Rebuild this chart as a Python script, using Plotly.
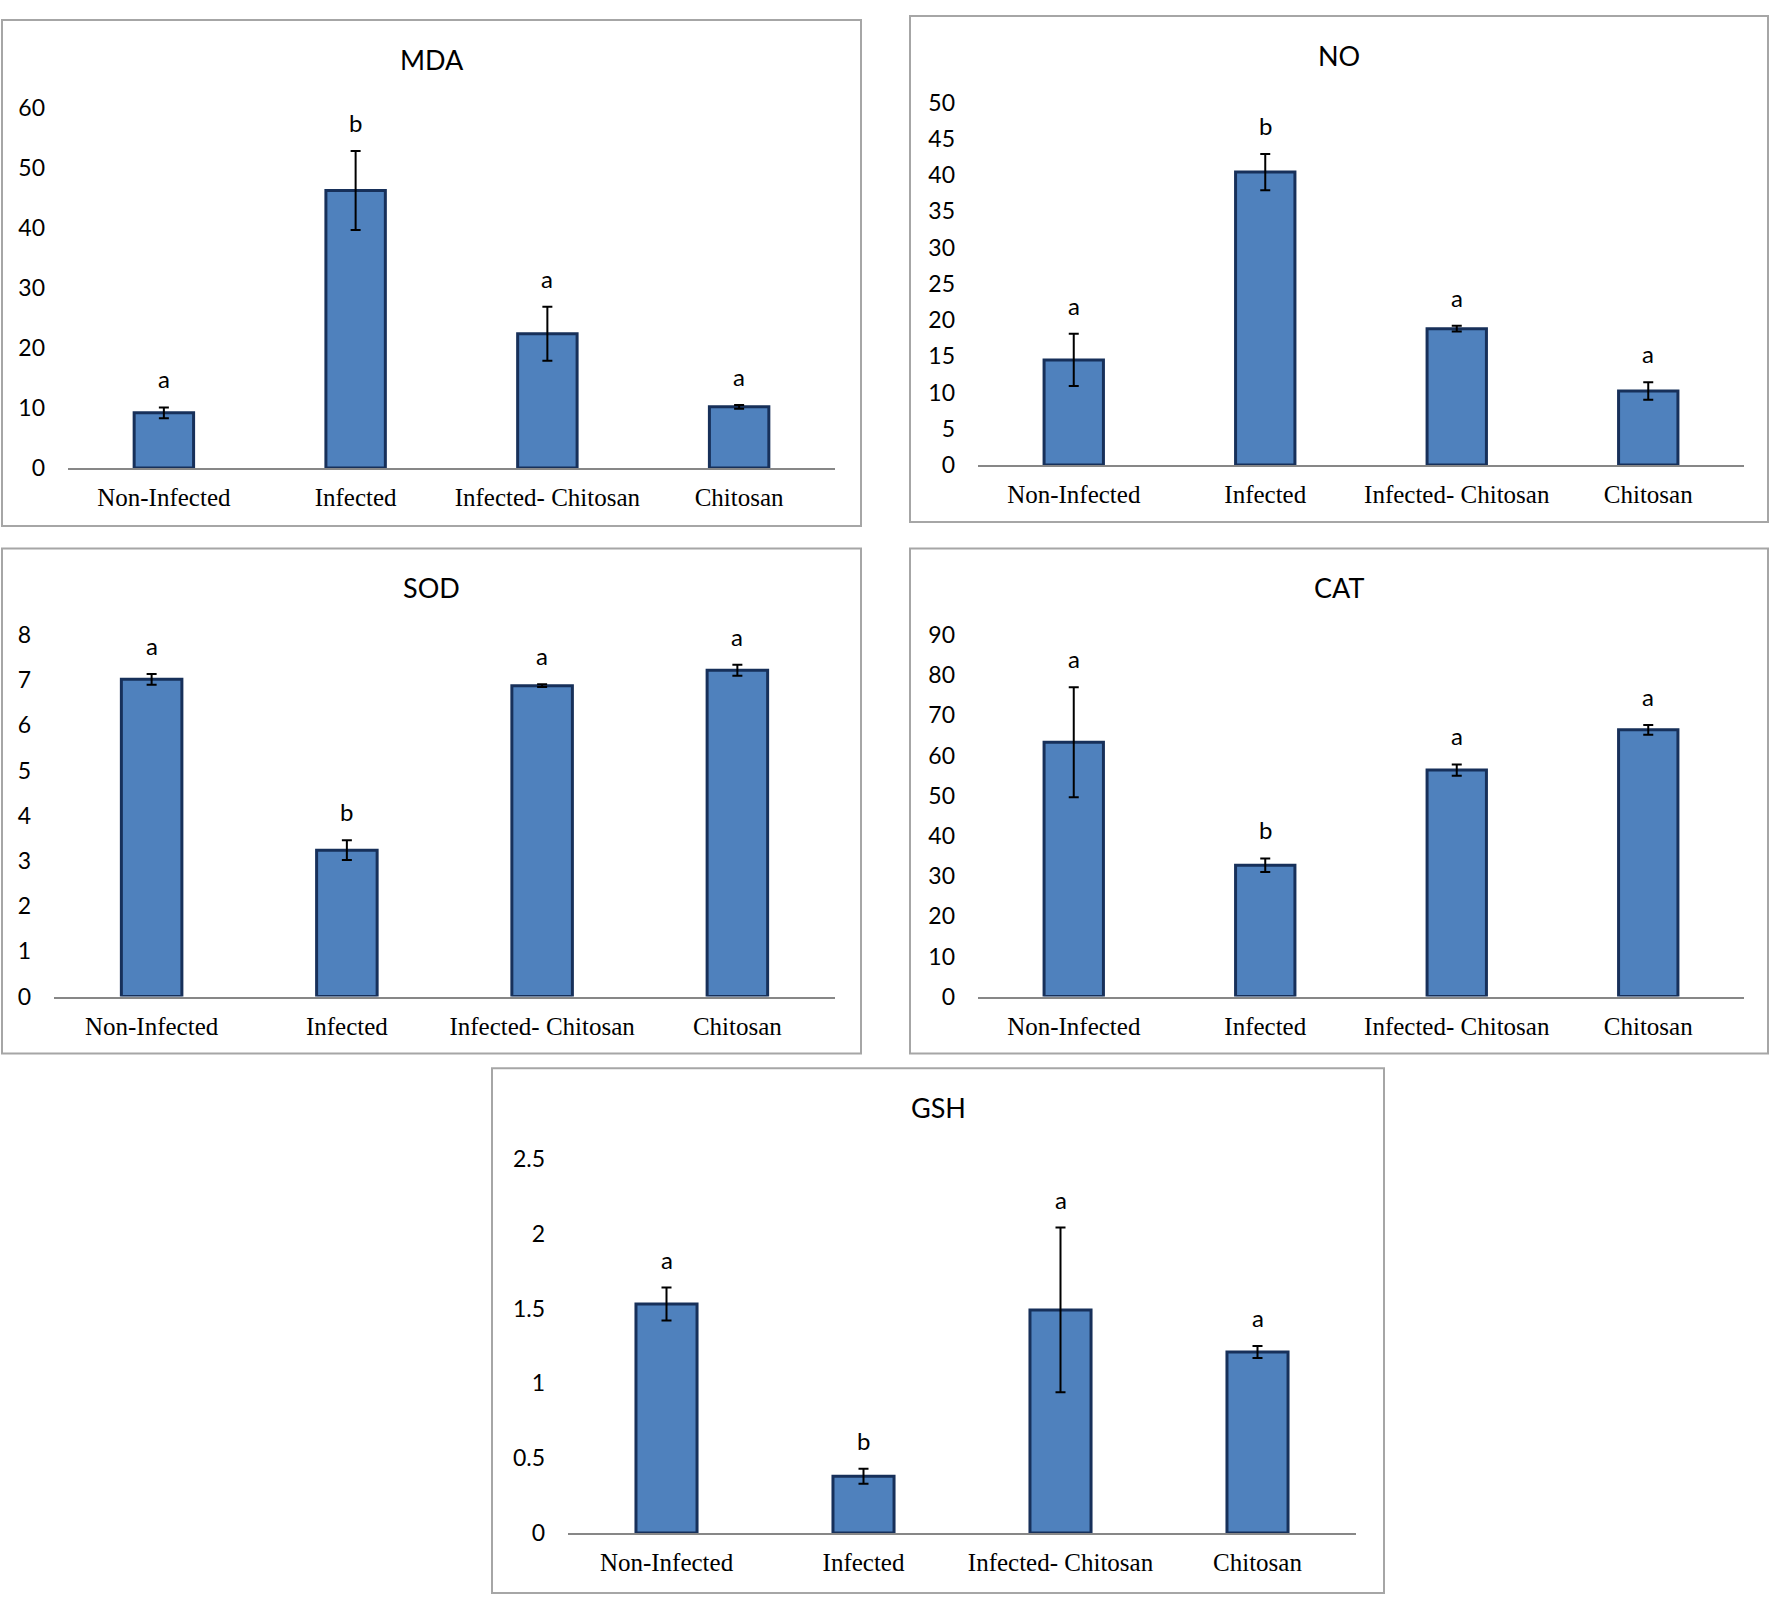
import plotly.graph_objects as go

W, H = 1770, 1609

categories = ["Non-Infected", "Infected", "Infected- Chitosan", "Chitosan"]

mda_vals = [9.2, 46.3, 22.4, 10.2]
mda_err = [0.9, 6.6, 4.5, 0.3]
mda_letters = ["a", "b", "a", "a"]
mda_ticks = [0, 10, 20, 30, 40, 50, 60]

no_vals = [14.5, 40.4, 18.8, 10.2]
no_err = [3.6, 2.5, 0.4, 1.2]
no_letters = ["a", "b", "a", "a"]
no_ticks = [0, 5, 10, 15, 20, 25, 30, 35, 40, 45, 50]

sod_vals = [7.02, 3.24, 6.88, 7.22]
sod_err = [0.12, 0.22, 0.03, 0.12]
sod_letters = ["a", "b", "a", "a"]
sod_ticks = [0, 1, 2, 3, 4, 5, 6, 7, 8]

cat_vals = [63.3, 32.7, 56.4, 66.4]
cat_err = [13.7, 1.7, 1.4, 1.2]
cat_letters = ["a", "b", "a", "a"]
cat_ticks = [0, 10, 20, 30, 40, 50, 60, 70, 80, 90]

gsh_vals = [1.53, 0.38, 1.49, 1.21]
gsh_err = [0.11, 0.05, 0.55, 0.04]
gsh_letters = ["a", "b", "a", "a"]
gsh_ticks = [0, 0.5, 1, 1.5, 2, 2.5]
gsh_ticktext = ["0", "0.5", "1", "1.5", "2", "2.5"]

# panel layout in pixels: box (x0, y0, x1, y1), x-axis span, y (zero, top tick)
panels = [
    ("MDA", mda_vals, mda_err, mda_letters, mda_ticks, None,
     (2, 5, 861, 520), (68, 835), (461, 95)),
    ("NO", no_vals, no_err, no_letters, no_ticks, None,
     (910, 1, 1768, 516), (978, 1744), (458, 89)),
    ("SOD", sod_vals, sod_err, sod_letters, sod_ticks, None,
     (2, 543, 861, 1057), (54, 835), (999, 631)),
    ("CAT", cat_vals, cat_err, cat_letters, cat_ticks, None,
     (910, 543, 1768, 1057), (978, 1744), (999, 631)),
    ("GSH", gsh_vals, gsh_err, gsh_letters, gsh_ticks, gsh_ticktext,
     (492, 1072, 1384, 1606), (568, 1356), (1545, 1164)),
]

BAR_FILL = "#4f81bd"
BAR_LINE = "#17305a"
AXIS_GREY = "#878787"
BOX_GREY = "#a6a6a6"
SANS = "Lato, Liberation Sans, sans-serif"
SERIF = "Liberation Serif, Times New Roman, serif"

fig = go.Figure()
layout = dict(
    width=W, height=H,
    margin=dict(l=0, r=0, t=0, b=0),
    paper_bgcolor="white", plot_bgcolor="white",
    showlegend=False,
    bargap=0.69,
    shapes=[], annotations=[],
)

def fx(px):
    return px / W

def fy(py):
    return 1 - py / H

for i, (title, vals, err, letters, ticks, ticktext, box, ax_x, ax_y) in enumerate(panels):
    n = i + 1
    xa = "x" if n == 1 else f"x{n}"
    ya = "y" if n == 1 else f"y{n}"
    fig.add_trace(go.Bar(
        x=categories, y=vals, xaxis=xa, yaxis=ya,
        marker=dict(color=BAR_FILL, line=dict(color=BAR_LINE, width=3)),
        error_y=dict(type="data", array=err, visible=True, color="black",
                     thickness=2, width=5),
        cliponaxis=False,
    ))
    top = ticks[-1]
    layout["xaxis" if n == 1 else f"xaxis{n}"] = dict(
        domain=[fx(ax_x[0]), fx(ax_x[1])], anchor=ya,
        showline=True, linecolor=AXIS_GREY, linewidth=2,
        ticks="", showgrid=False, zeroline=False,
        tickfont=dict(family=SERIF, size=25, color="black"),
        ticklabelstandoff=6,
    )
    layout["yaxis" if n == 1 else f"yaxis{n}"] = dict(
        domain=[fy(ax_y[0]), fy(ax_y[1])], anchor=xa,
        range=[0, top], tickvals=ticks,
        ticktext=ticktext if ticktext else [str(t) for t in ticks],
        showline=False, showgrid=False, zeroline=False, ticks="",
        tickfont=dict(family=SANS, size=23, color="black"),
        ticklabelstandoff=22,
    )
    layout["shapes"].append(dict(
        type="rect", xref="paper", yref="paper",
        x0=fx(box[0]), x1=fx(box[2]), y0=fy(box[3]), y1=fy(box[1]),
        line=dict(color=BOX_GREY, width=2), fillcolor="rgba(0,0,0,0)",
    ))
    layout["annotations"].append(dict(
        text=title, xref="paper", yref="paper",
        x=fx((box[0] + box[2]) / 2), y=fy(box[1] + 40),
        xanchor="center", yanchor="middle", showarrow=False,
        font=dict(family=SANS, size=27, color="black"),
    ))
    for c, v, e, L in zip(categories, vals, err, letters):
        layout["annotations"].append(dict(
            text=L, x=c, y=v + e, xref=xa, yref=ya,
            xanchor="center", yanchor="bottom", showarrow=False,
            yshift=12, font=dict(family=SANS, size=24, color="black"),
        ))

fig.update_layout(**layout)
fig.write_html("out.html", config={"displayModeBar": False},
               post_script="document.body.style.margin='0';")
